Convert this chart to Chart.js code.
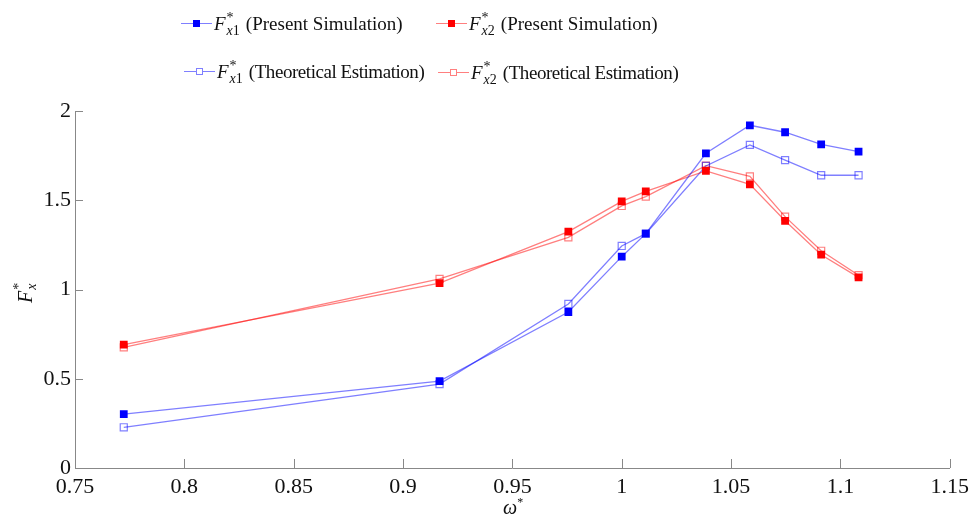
<!DOCTYPE html>
<html>
<head>
<meta charset="utf-8">
<script src="https://cdn.jsdelivr.net/npm/chart.js@4.4.0/dist/chart.umd.min.js"></script>
<style>
    html, body { margin: 0; padding: 0; background: #fff; }
    #wrap { position: relative; width: 975px; height: 518px; font-family: 'Liberation Serif', 'Times New Roman', serif; color: #111; }
    #chart { position: absolute; left: 0; top: 0; }
    .leg { position: absolute; font-size: 19px; white-space: nowrap; line-height: 24px; height: 24px; }
    .sample { display: inline-block; position: relative; width: 31px; height: 24px; vertical-align: top; margin-right: 2px; }
    .sample .ln { position: absolute; left: 0; right: 0; top: 11px; height: 0; border-top: 1.3px solid; }
    .sample .mk { position: absolute; left: 12px; top: 8px; width: 7px; height: 7px; box-sizing: border-box; }
    .math i { font-style: italic; }
    .ss { display: inline-block; vertical-align: top; line-height: 11px; font-size: 14px; margin-left: 1px; margin-right: 6px; }
    .ss span { display: block; }
    .ss .sb { margin-top: 2px; }
    .narrow { letter-spacing: -0.45px; }
    #ytitle { position: absolute; left: 10px; top: 276px; font-size: 20px; transform: rotate(-90deg); transform-origin: center; width: 30px; height: 24px; line-height: 24px; }
    #xtitle { position: absolute; left: 503px; top: 495px; font-size: 20px; }
</style>
</head>
<body>
<div id="wrap">
    <canvas id="chart" width="975" height="518"></canvas>
    <div id="legend"></div>
    <div id="ytitle" class="math"><i>F</i><span class="ss" style="margin-right:0"><span class="sp">*</span><span class="sb"><i>x</i></span></span></div>
    <div id="xtitle"><i>ω</i><sup style="font-size:12px">*</sup></div>
</div>
<script>
// frequency ratio (omega*)
const omega = [0.7723, 0.9167, 0.9756, 1.0, 1.011, 1.0385, 1.0586, 1.0747, 1.0912, 1.1083];

const fx1Sim = [0.302, 0.487, 0.874, 1.184, 1.313, 1.763, 1.920, 1.881, 1.813, 1.772];
const fx1Theory = [0.228, 0.470, 0.919, 1.244, 1.313, 1.692, 1.810, 1.725, 1.640, 1.640];
const fx2Sim = [0.691, 1.036, 1.324, 1.494, 1.550, 1.664, 1.589, 1.385, 1.195, 1.068];
const fx2Theory = [0.676, 1.059, 1.292, 1.468, 1.520, 1.694, 1.634, 1.408, 1.217, 1.080];

const xTicks = [0.75, 0.8, 0.85, 0.9, 0.95, 1, 1.05, 1.1, 1.15];
const yTicks = [0, 0.5, 1, 1.5, 2];

const BLUE = '#0000ff';
const BLUE_LINE = 'rgba(0, 0, 255, 0.5)';
const RED = '#ff0000';
const RED_LINE = 'rgba(255, 0, 0, 0.5)';

const legendItems = [
    { sub: '1', text: '(Present Simulation)', line: BLUE_LINE, fill: BLUE, open: false, x: 181, y: 12 },
    { sub: '2', text: '(Present Simulation)', line: RED_LINE, fill: RED, open: false, x: 436, y: 12 },
    { sub: '1', text: '(Theoretical Estimation)', line: BLUE_LINE, fill: BLUE_LINE, open: true, x: 184, y: 60 },
    { sub: '2', text: '(Theoretical Estimation)', line: RED_LINE, fill: RED_LINE, open: true, x: 438, y: 61 }
];

function toPoints(ys) {
    return ys.map((y, i) => ({ x: omega[i], y: y }));
}

function buildLegend() {
    const box = document.getElementById('legend');
    legendItems.forEach(item => {
        const mk = item.open
            ? `border: 1.2px solid ${item.fill}; background: #fff;`
            : `background: ${item.fill};`;
        const cls = item.open ? 'narrow' : '';
        const html = `
            <div class="leg" style="left:${item.x}px; top:${item.y}px;">
                <span class="sample"><span class="ln" style="border-color:${item.line}"></span><span class="mk" style="${mk}"></span></span><span class="math"><i>F</i><span class="ss"><span class="sp">*</span><span class="sb"><i>x</i>${item.sub}</span></span></span><span class="${cls}">${item.text}</span>
            </div>`;
        box.insertAdjacentHTML('beforeend', html);
    });
}

// inward tick marks, as in the original figure
const inwardTicks = {
    id: 'inwardTicks',
    afterDraw(chart) {
        const ctx = chart.ctx;
        const xs = chart.scales.x;
        const ys = chart.scales.y;
        ctx.save();
        ctx.strokeStyle = '#888';
        ctx.lineWidth = 1;
        ctx.beginPath();
        xTicks.forEach(v => {
            const px = Math.round(xs.getPixelForValue(v)) + 0.5;
            ctx.moveTo(px, ys.bottom);
            ctx.lineTo(px, ys.bottom - 9);
        });
        yTicks.forEach(v => {
            const py = Math.round(ys.getPixelForValue(v)) + 0.5;
            ctx.moveTo(xs.left, py);
            ctx.lineTo(xs.left + 8, py);
        });
        ctx.stroke();
        ctx.restore();
    }
};

function initChart() {
    const ctx = document.getElementById('chart').getContext('2d');
    const tickFont = { family: "'Liberation Serif', 'Times New Roman', serif", size: 22 };

    new Chart(ctx, {
        type: 'line',
        data: {
            datasets: [
                {
                    label: 'Fx1 (Present Simulation)',
                    data: toPoints(fx1Sim),
                    borderColor: BLUE_LINE,
                    borderWidth: 1.3,
                    pointStyle: 'rect',
                    pointRadius: 5.5,
                    pointHoverRadius: 5.5,
                    pointBackgroundColor: BLUE,
                    pointBorderColor: BLUE,
                    pointBorderWidth: 0,
                    order: 1
                },
                {
                    label: 'Fx2 (Present Simulation)',
                    data: toPoints(fx2Sim),
                    borderColor: RED_LINE,
                    borderWidth: 1.3,
                    pointStyle: 'rect',
                    pointRadius: 5.5,
                    pointHoverRadius: 5.5,
                    pointBackgroundColor: RED,
                    pointBorderColor: RED,
                    pointBorderWidth: 0,
                    order: 2
                },
                {
                    label: 'Fx1 (Theoretical Estimation)',
                    data: toPoints(fx1Theory),
                    borderColor: BLUE_LINE,
                    borderWidth: 1.3,
                    pointStyle: 'rect',
                    pointRadius: 5,
                    pointHoverRadius: 5,
                    pointBackgroundColor: 'rgba(255,255,255,0)',
                    pointBorderColor: BLUE_LINE,
                    pointBorderWidth: 1.2,
                    order: 3
                },
                {
                    label: 'Fx2 (Theoretical Estimation)',
                    data: toPoints(fx2Theory),
                    borderColor: RED_LINE,
                    borderWidth: 1.3,
                    pointStyle: 'rect',
                    pointRadius: 5,
                    pointHoverRadius: 5,
                    pointBackgroundColor: 'rgba(255,255,255,0)',
                    pointBorderColor: RED_LINE,
                    pointBorderWidth: 1.2,
                    order: 4
                }
            ]
        },
        options: {
            responsive: false,
            animation: false,
            layout: { padding: { top: 111, right: 23, left: 0, bottom: 0 } },
            scales: {
                x: {
                    type: 'linear',
                    min: 0.75,
                    max: 1.15,
                    afterBuildTicks: (scale) => { scale.ticks = xTicks.map(v => ({ value: v })); },
                    afterFit: (scale) => { scale.height = 50; },
                    ticks: {
                        font: tickFont,
                        color: '#111',
                        padding: 6,
                        maxRotation: 0,
                        callback: (v) => String(v)
                    },
                    grid: { display: false, drawTicks: false },
                    border: { display: true, color: '#888', width: 1 }
                },
                y: {
                    min: 0,
                    max: 2,
                    afterBuildTicks: (scale) => { scale.ticks = yTicks.map(v => ({ value: v })); },
                    afterFit: (scale) => { scale.width = 75; },
                    ticks: {
                        font: tickFont,
                        color: '#111',
                        padding: 4,
                        callback: (v) => String(v)
                    },
                    grid: { display: false, drawTicks: false },
                    border: { display: true, color: '#888', width: 1 }
                }
            },
            plugins: {
                legend: { display: false },
                tooltip: { enabled: false }
            }
        },
        plugins: [inwardTicks]
    });
}

buildLegend();
initChart();
</script>
</body>
</html>
